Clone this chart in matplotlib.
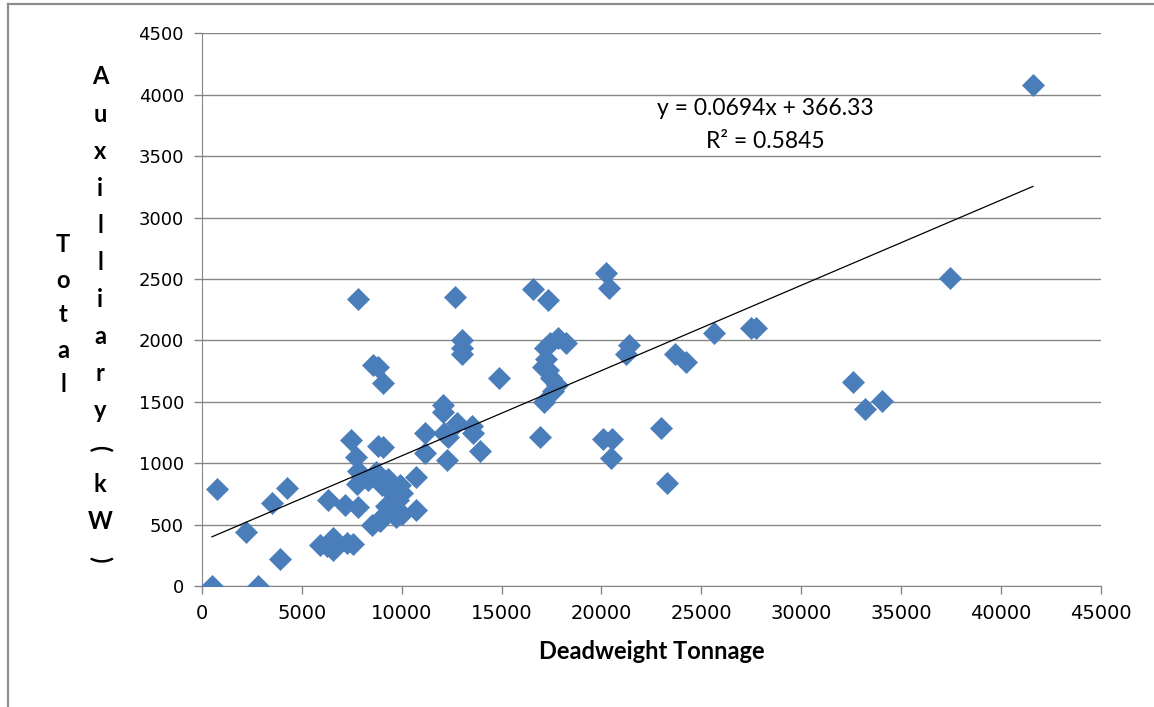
import matplotlib
matplotlib.use('Agg')
import matplotlib.pyplot as plt
from matplotlib.lines import Line2D
import numpy as np

# Deadweight tonnage vs total auxiliary power
dwt = [500, 750, 2200, 2800, 3500, 3900, 4250,
       5900, 6250, 6550, 6550, 6300, 7250, 7550, 7150, 7800,
       7450, 7800, 7700, 8550, 8800, 9050,
       8800, 9050, 7800, 8000, 7750, 8300,
       8500, 8900, 9100, 9350, 9600, 9800, 10000, 9500, 10000, 9200, 9700, 9300, 9000, 8700, 9900,
       10700, 10700,
       11150, 11150, 12050, 12050, 12100, 12250, 12300, 12750, 13500, 13550, 13900,
       12650, 13000, 13000, 13000, 14850,
       16550, 17300, 16900, 17150, 17400, 17800, 18200, 17050, 17300, 17450, 17750, 17100, 17550, 17200,
       20250, 20400, 20100, 20550, 20500, 21400, 21250,
       23000, 23300, 23700, 24250, 25650, 27500, 27750,
       32600, 33200, 34050, 37450, 41600]
aux_kw = [0, 790, 440, 0, 680, 220, 800,
          335, 330, 390, 290, 700, 350, 340, 660, 640,
          1190, 2340, 1050, 1800, 1780, 1650,
          1140, 1130, 940, 880, 830, 860,
          500, 530, 580, 800, 740, 700, 760, 620, 590, 650, 560, 870, 820, 930, 820,
          890, 620,
          1250, 1080, 1470, 1420, 1250, 1030, 1210, 1330, 1300, 1250, 1100,
          2350, 2000, 1940, 1890, 1690,
          2420, 2330, 1210, 1940, 1980, 2020, 1980, 1780, 1760, 1690, 1640, 1500, 1590, 1850,
          2550, 2430, 1200, 1200, 1040, 1960, 1890,
          1290, 840, 1890, 1820, 2060, 2100, 2100,
          1660, 1440, 1510, 2510, 4080]

SLOPE = 0.0694
INTERCEPT = 366.33
R2 = 0.5845

x_ticks = np.arange(0, 45001, 5000)
y_ticks = np.arange(0, 4501, 500)

col_total = "Total"
col_aux = "Auxilliary(kW)"

fig = plt.figure(figsize=(11.54, 7.07), dpi=100)
ax = fig.add_axes([0.175, 0.171, 0.779, 0.782])

ax.plot(dwt, aux_kw, ls='none', marker='D', ms=11, color='#4A7EBB', mec='#4A7EBB', mew=0.5, zorder=3)

xl = np.array([min(dwt), max(dwt)])
ax.plot(xl, SLOPE * xl + INTERCEPT, color='black', lw=0.9, zorder=4)

ax.set_xlim(0, 45000)
ax.set_ylim(0, 4500)
ax.set_xticks(x_ticks)
ax.set_yticks(y_ticks)
ax.grid(axis='y', color='#868686', lw=1.0)
ax.set_axisbelow(True)
for s in ['top', 'right']:
    ax.spines[s].set_visible(False)
for s in ['left', 'bottom']:
    ax.spines[s].set_color('#868686')
ax.tick_params(axis='both', colors='#868686', length=6, width=1, direction='out')
ax.tick_params(axis='x', labelcolor='black', labelsize=14, pad=7)
ax.tick_params(axis='y', labelcolor='black', labelsize=13, pad=7)

ax.set_xlabel("Deadweight Tonnage", fontsize=17, fontweight='bold', family='Lato', labelpad=12)

ax.text(0.627, 0.863, f"y = {SLOPE}x + {INTERCEPT}", transform=ax.transAxes,
        ha='center', va='center', fontsize=16.5, family='Lato')
ax.text(0.627, 0.805, f"R² = {R2}", transform=ax.transAxes,
        ha='center', va='center', fontsize=16.5, family='Lato')

# stacked vertical y-axis title, two columns like the original
def stacked(chars, xpx, y0, y1):
    ys = np.linspace(y0, y1, len(chars))
    for ch, ypx in zip(chars, ys):
        rot = 0
        if ch in '()':
            rot = -90
        fig.text(xpx / 1154, 1 - ypx / 707, ch, ha='center', va='center', rotation=rot,
                 fontsize=17, fontweight='bold', family='Lato')

stacked(col_total, 63, 245, 385)
stacked(col_aux, 100, 77, 559)

# screenshot frame on left and top
fig.add_artist(Line2D([8 / 1154, 8 / 1154], [0, 1 - 4 / 707], color='#8c8c8c', lw=1.6))
fig.add_artist(Line2D([8 / 1154, 1], [1 - 4 / 707, 1 - 4 / 707], color='#8c8c8c', lw=1.6))

fig.savefig('out.png', dpi=100)
